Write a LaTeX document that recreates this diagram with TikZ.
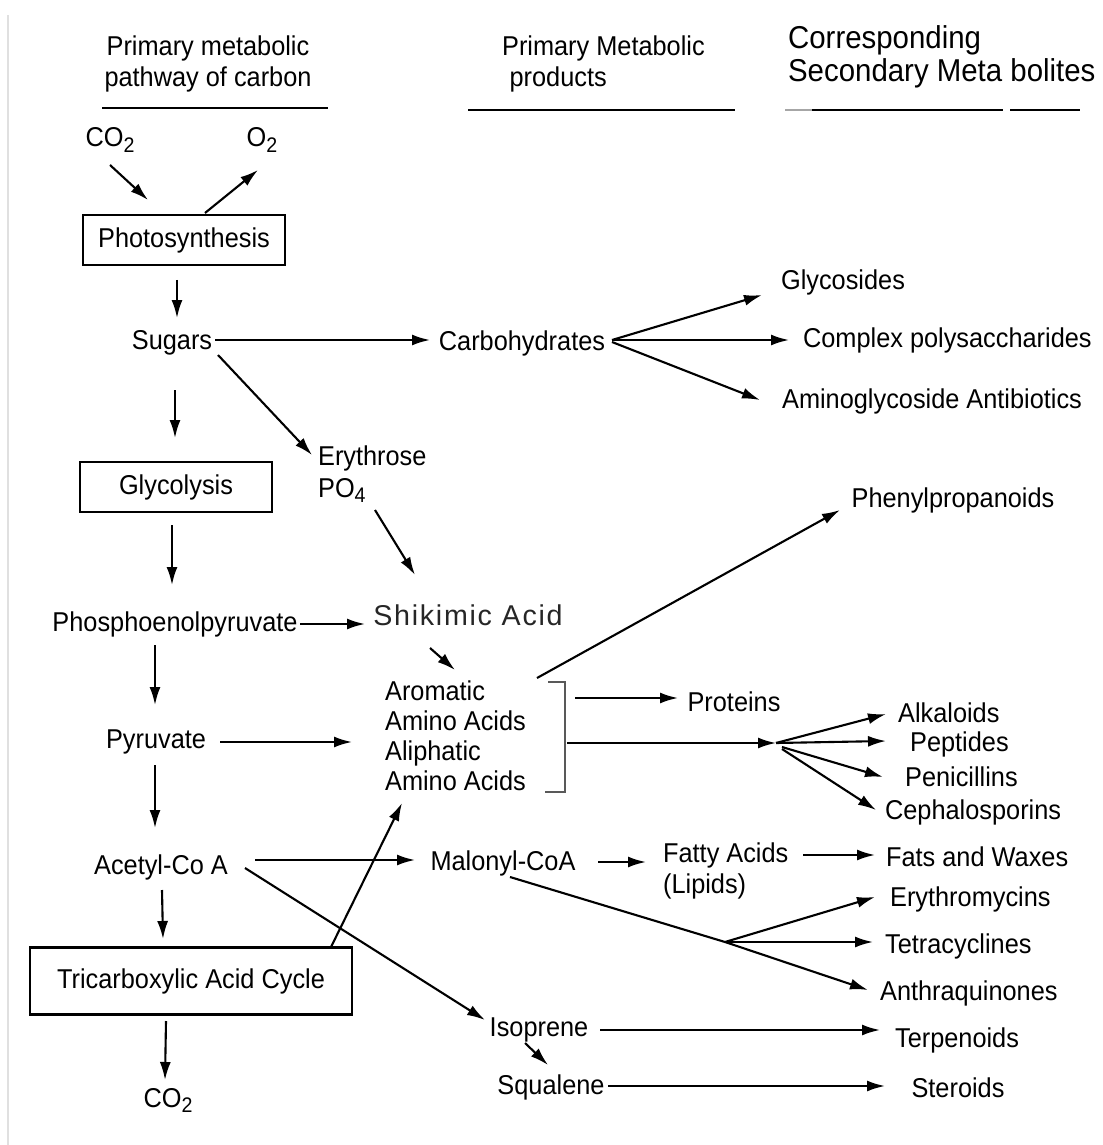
\documentclass[tikz,border=0pt]{standalone}
\usepackage{fontspec}
\setmainfont[FakeStretch=0.93]{Liberation Sans}
\newfontfamily\shikfont[LetterSpace=6]{Liberation Sans}
\usetikzlibrary{arrows.meta,calc,positioning}
\tikzstyle{txt} = [font=\fontsize{15.5}{18}\selectfont, inner sep=1pt]
\tikzstyle{proc} = [txt, draw, line width=1.2pt, inner sep=0pt]
\tikzstyle{flow} = [-{Latex[length=0.36cm,width=0.22cm]}, line width=1.2pt]
\tikzstyle{rule} = [line width=1.2pt]
\newcommand{\sub}[1]{\raisebox{-0.35ex}{\fontsize{12}{12}\selectfont #1}}

\begin{document}
\begin{tikzpicture}[x=0.02cm, y=-0.02cm]
\useasboundingbox (0,0) rectangle (1102,1145);
\draw[black!12, line width=0.8pt] (8,15) -- (8,1145);

% Headers
\node[txt, align=center]                          (hdA) at (208,64)  {Primary metabolic\\pathway of carbon};
\node[txt, align=left, anchor=west]               (hdB) at (500,64)  {Primary Metabolic\\\hspace*{0.15cm}products};
\node[txt, align=left, anchor=west, font=\fontsize{18}{18.7}\selectfont] (hdC) at (786,57) {Corresponding\\Secondary Meta bolites};
\draw[rule] (102,108) -- (328,108);
\draw[rule] (468,110) -- (735,110);
\draw[rule, black!35] (785,110) -- (812,110);
\draw[rule] (812,110) -- (1003,110);
\draw[rule] (1010,110) -- (1080,110);

% Define nodes
\node[txt]                                        (co2a)  at (110,140) {CO\sub{2}};
\node[txt]                                        (o2)    at (262,140) {O\sub{2}};
\node[proc, minimum width=4.04cm, minimum height=1cm]   (photo) at (184,240) {Photosynthesis};
\node[txt]                                        (sugars) at (172,343) {Sugars};
\node[txt]                                        (carbo) at (522,343) {Carbohydrates};
\node[txt]                                        (glyco) at (843,282) {Glycosides};
\node[txt, anchor=west]                           (cpoly) at (801,340) {Complex polysaccharides};
\node[txt, anchor=west]                           (amgly) at (780,401) {Aminoglycoside Antibiotics};
\node[proc, minimum width=3.84cm, minimum height=1cm]   (glycol) at (176,487) {Glycolysis};
\node[txt, align=left, anchor=west]               (eryth) at (316,474) {Erythrose\\PO\sub{4}};
\node[txt]                                        (pep)   at (175,624) {Phosphoenolpyruvate};
\node[txt, font=\shikfont\fontsize{16.3}{18}\selectfont, text=black!85] (shik) at (468,615) {Shikimic Acid};
\node[txt, align=left, anchor=west, font=\fontsize{15.5}{17}\selectfont] (amino) at (383,736) {Aromatic\\Amino Acids\\Aliphatic\\Amino Acids};
\node[txt]                                        (phenyl) at (953,500) {Phenylpropanoids};
\node[txt]                                        (prot)  at (734,702) {Proteins};
\node[txt, anchor=west]                           (alk)   at (896,713) {Alkaloids};
\node[txt, anchor=west]                           (pept)  at (908,744) {Peptides};
\node[txt, anchor=west]                           (peni)  at (903,777) {Penicillins};
\node[txt, anchor=west]                           (ceph)  at (883,812) {Cephalosporins};
\node[txt]                                        (pyr)   at (156,742) {Pyruvate};
\node[txt]                                        (acet)  at (161,867) {Acetyl-Co A};
\node[txt]                                        (malo)  at (503,863) {Malonyl-CoA};
\node[txt, align=left, anchor=west]               (fatty) at (661,871) {Fatty Acids\\(Lipids)};
\node[txt, anchor=west]                           (fats)  at (884,857) {Fats and Waxes};
\node[txt, anchor=west]                           (erythro) at (888,899) {Erythromycins};
\node[txt, anchor=west]                           (tetra) at (883,946) {Tetracyclines};
\node[txt, anchor=west]                           (anthra) at (878,993) {Anthraquinones};
\node[proc, minimum width=6.44cm, minimum height=1.34cm] (tca) at (191,981) {Tricarboxylic Acid Cycle};
\node[txt]                                        (co2b)  at (168,1100) {CO\sub{2}};
\node[txt]                                        (iso)   at (539,1030) {Isoprene};
\node[txt]                                        (squa)  at (551,1087) {Squalene};
\node[txt]                                        (terp)  at (957,1040) {Terpenoids};
\node[txt]                                        (ster)  at (958,1088) {Steroids};

\coordinate (fanA) at (776,743);
\coordinate (fanB) at (725,942);

% Edges
\draw[flow] ($(co2a)+(0,25)$) -- ($(photo)+(-36,-40)$);
\draw[flow] ($(photo)+(21,-27)$) -- ($(o2)+(-4,30)$);
\draw[flow] ($(photo)+(-7,40)$) -- ($(sugars)+(5,-25)$);
\draw[flow] ($(sugars)+(43,-3)$) -- ($(carbo)+(-92,-3)$);
\draw[flow] ($(carbo)+(90,-3)$) -- ($(glyco)+(-81,13)$);
\draw[flow] ($(carbo)+(90,-3)$) -- ($(cpoly.west)+(-12,0)$);
\draw[flow] ($(carbo)+(90,-1)$) -- ($(amgly.west)+(-20,-1)$);
\draw[flow] ($(sugars)+(46,12)$) -- ($(eryth.west)+(-4,-19)$);
\draw[flow] ($(sugars)+(3,47)$) -- ($(glycol)+(-1,-49)$);
\draw[flow] ($(eryth.west)+(59,36)$) -- ($(shik)+(-53,-40)$);
\draw[flow] ($(glycol)+(-4,38)$) -- ($(pep)+(-3,-39)$);
\draw[flow] ($(pep)+(125,0)$) -- ($(shik)+(-103,9)$);
\draw[flow] ($(shik)+(-38,33)$) -- ($(amino.west)+(72,-66)$);
\draw[flow] ($(amino.west)+(154,-58)$) -- ($(phenyl)+(-113,10)$);
\draw[rule, black!65] ($(amino.west)+(165,-54)$) -- ++(17,0) -- ++(0,110) -- ++(-20,0);
\draw[flow] ($(amino.west)+(192,-38)$) -- ($(prot)+(-56,-4)$);
\draw[flow] ($(amino.west)+(184,7)$) -- (fanA);
\draw[flow] (fanA) -- ($(alk.west)+(-10,1)$);
\draw[flow] (fanA) -- ($(pept.west)+(-22,-3)$);
\draw[flow] ($(fanA)+(6,4)$) -- ($(peni.west)+(-20,0)$);
\draw[flow] ($(fanA)+(6,6)$) -- ($(ceph.west)+(-7,-2)$);
\draw[flow] ($(pyr)+(64,0)$) -- ($(amino.west)+(-31,6)$);
\draw[flow] ($(pep)+(-20,21)$) -- ($(pyr)+(-1,-37)$);
\draw[flow] ($(pyr)+(-1,23)$) -- ($(acet)+(-6,-39)$);
\draw[flow] ($(acet)+(94,-7)$) -- ($(malo)+(-88,-3)$);
\draw[flow] ($(malo)+(95,-1)$) -- ($(fatty.west)+(-15,-9)$);
\draw[flow] ($(fatty.west)+(142,-16)$) -- ($(fats.west)+(-9,-2)$);
\draw[rule] ($(malo)+(7,14)$) -- (fanB);
\draw[flow] (fanB) -- ($(erythro.west)+(-13,-2)$);
\draw[flow] (fanB) -- ($(tetra.west)+(-10,-4)$);
\draw[flow] (fanB) -- ($(anthra.west)+(-10,-3)$);
\draw[flow] ($(acet)+(84,1)$) -- ($(iso)+(-54,-10)$);
\draw[flow] ($(acet)+(1,23)$) -- ($(tca)+(-28,-42)$);
\draw[flow] ($(tca)+(140,-34)$) -- ($(amino.west)+(19,67)$);
\draw[flow] ($(tca)+(-25,40)$) -- ($(co2b)+(-3,-20)$);
\draw[flow] ($(iso)+(-14,13)$) -- ($(squa)+(-3,-22)$);
\draw[flow] ($(iso)+(61,0)$) -- ($(terp)+(-77,-10)$);
\draw[flow] ($(squa)+(57,-1)$) -- ($(ster)+(-73,-2)$);
\end{tikzpicture}
\end{document}
